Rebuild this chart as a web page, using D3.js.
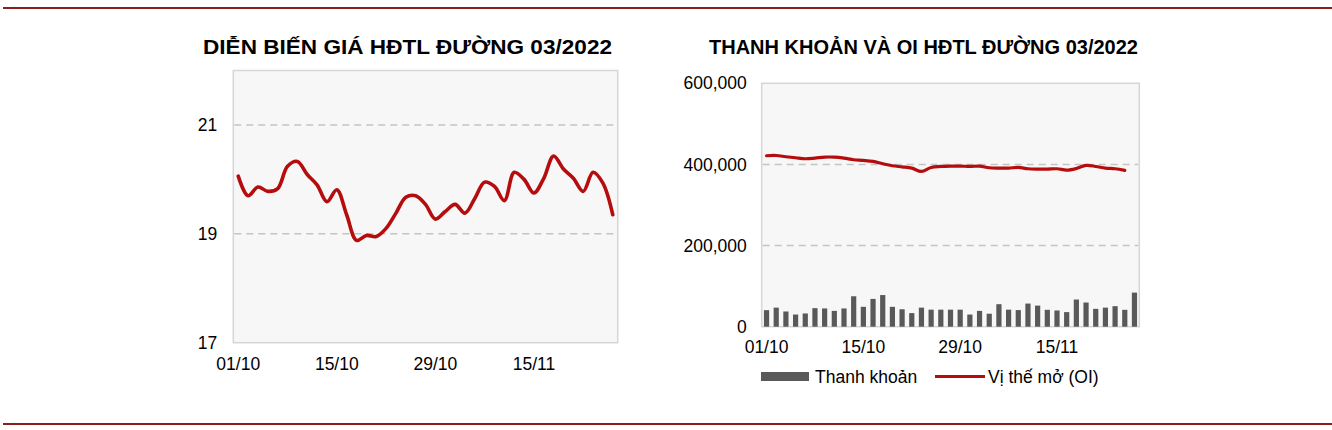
<!DOCTYPE html>
<html><head><meta charset="utf-8">
<script src="https://cdn.jsdelivr.net/npm/d3@7"></script>
<style>
body{margin:0;background:#fff;}
svg{display:block;font-family:"Liberation Sans",Arial,sans-serif;}
</style>
</head><body>
<svg id="c" width="1332" height="430"></svg>
<script>
// ---- data ----
const dates = ["01/10","04/10","05/10","06/10","07/10","08/10","11/10","12/10","13/10","14/10",
  "15/10","18/10","19/10","20/10","21/10","22/10","25/10","26/10","27/10","28/10",
  "29/10","02/11","03/11","04/11","05/11","08/11","09/11","10/11","11/11","12/11",
  "15/11","16/11","17/11","18/11","19/11","22/11","23/11","24/11","25/11"];
const price = [20.06,19.70,19.86,19.78,19.83,20.24,20.33,20.09,19.90,19.59,
  19.81,19.35,18.88,18.97,18.95,19.10,19.38,19.67,19.70,19.54,
  19.27,19.41,19.54,19.38,19.65,19.95,19.87,19.61,20.13,20.00,
  19.75,20.02,20.43,20.19,20.02,19.78,20.13,19.93,19.35];
const volume = [40800,47000,37500,30000,32600,45700,45000,39000,45000,75000,
  49000,68500,78000,49000,43000,33500,47000,42000,42000,42000,
  42000,30000,39000,32000,55500,42000,41000,57000,52000,41600,
  40000,36000,67000,59600,44000,47000,50600,41600,84000];
const openInterest = [421400,422000,419000,416400,414000,415600,418000,418000,415600,411500,
  409900,407400,401600,396700,394000,391000,382700,392600,395000,395900,
  395900,395000,395900,391800,391000,391000,392600,389300,388500,388500,
  389300,386000,390000,397500,395000,391000,389300,385200,null];
const priceTicks = [17,19,21];
const volTicks = [0,200000,400000,600000];
const dateTicks = dates.filter((d,i)=>i%10===0);
const titleLeft = "DIỄN BIẾN GIÁ HĐTL ĐƯỜNG 03/2022";
const titleRight = "THANH KHOẢN VÀ OI HĐTL ĐƯỜNG 03/2022";
const legendLabels = ["Thanh khoản","Vị thế mở (OI)"];

// ---- drawing ----
const svg = d3.select("#c");
const RED = "#b50d0d", BAR = "#595959", RULE = "#8e1e1e";

svg.append("line").attr("x1",3).attr("x2",1332).attr("y1",8).attr("y2",8).attr("stroke",RULE).attr("stroke-width",2);
svg.append("line").attr("x1",3).attr("x2",1332).attr("y1",424).attr("y2",424).attr("stroke",RULE).attr("stroke-width",2);

function title(txt, cx, w){
  svg.append("text").attr("x",cx).attr("y",53.5).attr("text-anchor","middle")
    .attr("font-size",21).attr("font-weight","bold").attr("fill","#000")
    .attr("textLength",w).attr("lengthAdjust","spacingAndGlyphs").text(txt);
}
title(titleLeft, 407.5, 409);
title(titleRight, 923.5, 429);

function frame(x0,x1,y0,y1){
  svg.append("rect").attr("x",x0).attr("y",y0).attr("width",x1-x0).attr("height",y1-y0)
    .attr("fill","#f7f7f7").attr("stroke","#d6d6d6").attr("stroke-width",1.5);
}
function grid(vals, y, x0, x1){
  svg.append("g").selectAll("line").data(vals).join("line")
    .attr("x1",x0+1).attr("x2",x1-1).attr("y1",d=>y(d)).attr("y2",d=>y(d))
    .attr("stroke","#c4c4c4").attr("stroke-width",1.5).attr("stroke-dasharray","7,5");
}
function styleAxis(g){
  g.select(".domain").remove();
  g.selectAll(".tick line").remove();
  g.selectAll("text").attr("font-size",17.5).attr("fill","#000").attr("font-family","Liberation Sans, Arial, sans-serif");
}

// Left chart
const L = {x0:233.3, x1:617.7, y0:70.5, y1:342.7};
const xL = d3.scaleBand().domain(dates).range([L.x0, L.x1]);
const yL = d3.scaleLinear().domain([17,22]).range([L.y1, L.y0]);
frame(L.x0,L.x1,L.y0,L.y1);
grid([19,21], yL, L.x0, L.x1);
svg.append("g").attr("transform",`translate(${L.x0-16},0)`)
  .call(d3.axisLeft(yL).tickValues(priceTicks).tickSize(0).tickPadding(0).tickFormat(d3.format("d")))
  .call(styleAxis);
svg.append("g").attr("transform",`translate(0,${L.y1+15})`)
  .call(d3.axisBottom(xL).tickValues(dateTicks).tickSize(0).tickPadding(0))
  .call(styleAxis);
svg.append("path").datum(price)
  .attr("fill","none").attr("stroke",RED).attr("stroke-width",3.6).attr("stroke-linejoin","round").attr("stroke-linecap","round")
  .attr("d", d3.line().x((d,i)=>xL(dates[i])+xL.bandwidth()/2).y(d=>yL(d)).curve(d3.curveCatmullRom.alpha(0.5)));

// Right chart
const R = {x0:761.7, x1:1139.3, y0:83.3, y1:326.7};
const xRc = d3.scaleBand().domain(dates).range([R.x0, R.x1]);
const yR = d3.scaleLinear().domain([0,600000]).range([R.y1, R.y0]);
frame(R.x0,R.x1,R.y0,R.y1);
grid([200000,400000], yR, R.x0, R.x1);
svg.append("g").attr("transform",`translate(${R.x0-15},0)`)
  .call(d3.axisLeft(yR).tickValues(volTicks).tickSize(0).tickPadding(0).tickFormat(d3.format(",")))
  .call(styleAxis);
svg.append("g").attr("transform",`translate(0,${R.y1+14})`)
  .call(d3.axisBottom(xRc).tickValues(dateTicks).tickSize(0).tickPadding(0))
  .call(styleAxis);
svg.append("g").selectAll("rect").data(volume).join("rect")
  .attr("x",(d,i)=>xRc(dates[i])+xRc.bandwidth()/2-2.6).attr("width",5.2)
  .attr("y",d=>yR(d)).attr("height",d=>yR(0)-yR(d)).attr("fill",BAR);
svg.append("path").datum(openInterest)
  .attr("fill","none").attr("stroke",RED).attr("stroke-width",3.2).attr("stroke-linejoin","round").attr("stroke-linecap","round")
  .attr("d", d3.line().defined(d=>d!=null).x((d,i)=>xRc(dates[i])+xRc.bandwidth()/2).y(d=>yR(d)).curve(d3.curveCatmullRom.alpha(0.5)));

// Legend
const lg = svg.append("g").attr("font-size",17.5);
lg.append("rect").attr("x",761).attr("y",372).attr("width",48).attr("height",9).attr("fill",BAR);
lg.append("text").attr("x",815).attr("y",382.5).text(legendLabels[0]);
lg.append("line").attr("x1",935).attr("x2",985).attr("y1",376.5).attr("y2",376.5).attr("stroke",RED).attr("stroke-width",3);
lg.append("text").attr("x",988).attr("y",382.5).text(legendLabels[1]);
</script>
</body></html>
